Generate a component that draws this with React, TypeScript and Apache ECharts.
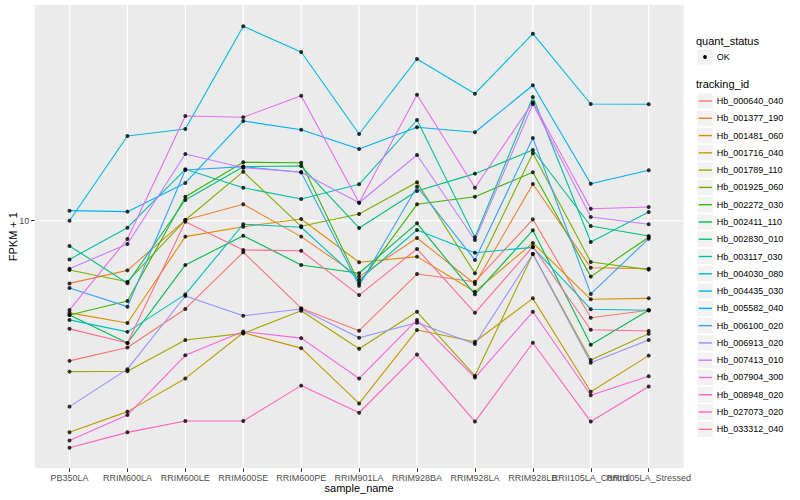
import React, { useEffect, useRef } from "react";
import * as echarts from "echarts";

const categories = [
  "PB350LA", "RRIM600LA", "RRIM600LE", "RRIM600SE", "RRIM600PE", "RRIM901LA",
  "RRIM928BA", "RRIM928LA", "RRIM928LB", "RRII105LA_Control", "RRII105LA_Stressed",
];

const trackingIds = [
  "Hb_000640_040", "Hb_001377_190", "Hb_001481_060", "Hb_001716_040", "Hb_001789_110",
  "Hb_001925_060", "Hb_002272_030", "Hb_002411_110", "Hb_002830_010", "Hb_003117_030",
  "Hb_004030_080", "Hb_004435_030", "Hb_005582_040", "Hb_006100_020", "Hb_006913_020",
  "Hb_007413_010", "Hb_007904_300", "Hb_008948_020", "Hb_027073_020", "Hb_033312_040",
];

const colors = [
  "#F8766D", "#EA8331", "#D89000", "#C09B00", "#A3A500", "#7CAE00", "#39B600", "#00BB4E",
  "#00BF7D", "#00C1A3", "#00BFC4", "#00BAE0", "#00B0F6", "#35A2FF", "#9590FF", "#C77CFF",
  "#E76BF3", "#FA62DB", "#FF62BC", "#FF6C91",
];

// FPKM + 1 per sample, in category order
const hb000640 = [3.41, 3.78, 5.08, 7.85, 5.11, 4.3, 6.64, 6.26, 10.11, 4.75, 5.03];
const hb001377 = [6.18, 6.83, 10.05, 11.34, 8.85, 6.51, 8.76, 6.15, 13.25, 6.97, 6.92];
const hb001481 = [4.93, 4.56, 8.85, 9.55, 10.13, 7.27, 7.59, 5.8, 8.43, 5.47, 5.51];
const hb001716 = [1.97, 2.31, 2.98, 4.23, 3.76, 2.46, 4.32, 3.95, 5.51, 2.69, 3.55];
const hb001789 = [3.14, 3.15, 4.0, 4.21, 5.01, 3.74, 4.97, 3.04, 7.74, 3.43, 4.2];
const hb001925 = [6.85, 6.26, 10.05, 14.57, 9.58, 10.53, 13.43, 6.68, 16.77, 7.28, 6.87];
const hb002272 = [4.85, 5.4, 12.02, 15.65, 15.61, 6.19, 11.34, 12.02, 14.5, 6.51, 8.81];
const hb002411 = [4.85, 3.91, 7.12, 8.91, 7.12, 6.68, 9.8, 5.68, 9.29, 3.86, 5.03];
const hb002830 = [8.24, 6.19, 11.72, 15.14, 15.21, 9.46, 12.56, 14.35, 17.21, 9.6, 8.89];
const hb003117 = [7.43, 9.48, 14.84, 12.88, 11.81, 13.22, 21.66, 8.81, 25.84, 8.49, 10.69];
const hb004030 = [4.67, 4.26, 5.68, 9.73, 9.51, 6.34, 9.31, 7.82, 8.15, 5.07, 5.03];
const hb004435 = [10.0, 19.16, 20.22, 44.46, 36.5, 19.45, 34.6, 26.5, 42.0, 24.49, 24.43];
const hb005582 = [10.8, 10.72, 13.36, 21.49, 20.11, 17.34, 20.48, 19.71, 28.27, 13.28, 14.72];
const hb006100 = [5.97, 5.17, 14.76, 15.14, 14.5, 6.07, 12.98, 7.4, 18.87, 5.7, 8.71];
const hb006913 = [2.4, 3.2, 5.61, 4.82, 5.08, 4.07, 4.57, 3.88, 7.74, 3.36, 4.0];
const hb007413 = [6.92, 8.36, 16.68, 15.02, 14.5, 11.48, 16.56, 8.62, 24.49, 10.29, 9.73];
const hb007904 = [5.04, 8.69, 22.34, 22.12, 26.1, 11.48, 26.3, 12.88, 24.81, 10.96, 11.11];
const hb008948 = [1.85, 2.25, 3.56, 4.27, 4.06, 2.98, 4.67, 3.0, 4.97, 2.62, 3.03];
const hb027073 = [1.75, 1.97, 2.15, 2.15, 2.82, 2.29, 3.58, 2.14, 3.92, 2.14, 2.8];
const hb033312 = [4.36, 3.91, 9.92, 7.99, 7.94, 5.65, 8.05, 4.93, 8.19, 4.33, 4.29];

const seriesValues = [
  hb000640, hb001377, hb001481, hb001716, hb001789, hb001925, hb002272, hb002411,
  hb002830, hb003117, hb004030, hb004435, hb005582, hb006100, hb006913, hb007413,
  hb007904, hb008948, hb027073, hb033312,
];

const yTickValues = [10];
const quantStatus = ["OK"];

export default function App() {
  const ref = useRef<HTMLDivElement>(null);

  useEffect(() => {
    if (!ref.current) return;
    const chart = echarts.init(ref.current, null, { renderer: "svg" });
    const font = "'Liberation Sans', Arial, Helvetica, sans-serif";

    const panel = { x: 34.8, y: 5, w: 648.8, h: 463.3 };

    const lineSeries = trackingIds.map((name, i) => ({
      type: "line",
      name,
      data: seriesValues[i],
      symbol: "none",
      showSymbol: false,
      lineStyle: { color: colors[i], width: 1.1 },
      itemStyle: { color: colors[i] },
      z: 2,
      silent: true,
      emphasis: { disabled: true },
    }));
    const pointSeries = trackingIds.map((name, i) => ({
      type: "scatter",
      name: name + " points",
      data: seriesValues[i],
      symbol: "circle",
      symbolSize: 4,
      itemStyle: { color: "#000000" },
      z: 3,
      silent: true,
      emphasis: { disabled: true },
    }));

    chart.setOption({
      animation: false,
      textStyle: { fontFamily: font },
      grid: {
        left: 40.54,
        right: 122.34,
        top: panel.y,
        bottom: 500 - (panel.y + panel.h),
        containLabel: false,
        outerBoundsMode: "none",
      },
      xAxis: {
        type: "category",
        data: categories,
        boundaryGap: true,
        axisLine: { show: false },
        axisTick: { show: true, alignWithLabel: true, length: 3.7, lineStyle: { color: "#333333", width: 1 } },
        axisLabel: { interval: 0, color: "#4D4D4D", fontSize: 9, margin: 5, fontFamily: font, hideOverlap: false },
        splitLine: { show: false },
        name: "sample_name",
        nameLocation: "middle",
        nameGap: 14.5,
        nameMoveOverlap: false,
        nameTextStyle: { fontSize: 11, color: "#000000", fontFamily: font },
      },
      yAxis: {
        type: "log",
        logBase: 10,
        min: 1.495,
        max: 52.36,
        offset: 5.74,
        axisLine: { show: false },
        axisTick: { show: true, customValues: yTickValues, length: 3.7, lineStyle: { color: "#333333", width: 1 } },
        axisLabel: {
          customValues: yTickValues,
          showMinLabel: false,
          showMaxLabel: false,
          color: "#4D4D4D",
          fontSize: 9,
          margin: 5.5,
          fontFamily: font,
          formatter: (v: number) => (yTickValues.some((t) => Math.abs(t - v) < 1e-6) ? String(v) : ""),
        },
        splitLine: { show: false },
        minorSplitLine: { show: false },
        name: "FPKM + 1",
        nameLocation: "middle",
        nameGap: 16,
        nameMoveOverlap: false,
        nameTextStyle: { fontSize: 11, color: "#000000", fontFamily: font },
      },
      series: [...lineSeries, ...pointSeries],
    });

    const elements: any[] = [];
    elements.push({
      type: "rect",
      shape: { x: panel.x, y: panel.y, width: panel.w, height: panel.h },
      style: { fill: "#EBEBEB" },
      z: -10,
      silent: true,
    });
    yTickValues.forEach((t) => {
      const py = chart.convertToPixel({ yAxisIndex: 0 }, t) as number;
      elements.push({
        type: "line",
        shape: { x1: panel.x, y1: py, x2: panel.x + panel.w, y2: py },
        style: { stroke: "#FFFFFF", lineWidth: 1.3 },
        z: -9,
        silent: true,
      });
    });
    categories.forEach((c) => {
      const px = chart.convertToPixel({ xAxisIndex: 0 }, c) as number;
      elements.push({
        type: "line",
        shape: { x1: px, y1: panel.y, x2: px, y2: panel.y + panel.h },
        style: { stroke: "#FFFFFF", lineWidth: 1.3 },
        z: -9,
        silent: true,
      });
    });

    const txt = (text: string, x: number, y: number, size: number) => ({
      type: "text",
      x,
      y,
      style: {
        text,
        fill: "#000000",
        fontSize: size,
        fontFamily: font,
        align: "left",
        verticalAlign: "middle",
        textAlign: "left",
        textVerticalAlign: "middle",
      },
      silent: true,
    });

    // legend: quant_status
    elements.push(txt("quant_status", 696, 40.7, 11));
    quantStatus.forEach((q, i) => {
      const cy = 57 + i * 17.28;
      elements.push({
        type: "rect",
        shape: { x: 697.3, y: cy - 7.7, width: 15.4, height: 15.4 },
        style: { fill: "#F2F2F2" },
        silent: true,
      });
      elements.push({ type: "circle", shape: { cx: 705, cy, r: 1.9 }, style: { fill: "#000000" }, silent: true });
      elements.push(txt(q, 716.7, cy, 9));
    });

    // legend: tracking_id
    elements.push(txt("tracking_id", 696, 84.3, 11));
    trackingIds.forEach((name, i) => {
      const cy = 101 + i * 17.28;
      elements.push({
        type: "rect",
        shape: { x: 697.3, y: cy - 7.7, width: 15.4, height: 15.4 },
        style: { fill: "#F2F2F2" },
        silent: true,
      });
      elements.push({
        type: "line",
        shape: { x1: 698.7, y1: cy, x2: 712, y2: cy },
        style: { stroke: colors[i], lineWidth: 1.4 },
        silent: true,
      });
      elements.push(txt(name, 716.7, cy, 9));
    });

    chart.setOption({ graphic: { elements } });

    return () => {
      chart.dispose();
    };
  }, []);

  return <div ref={ref} style={{ position: "absolute", left: 0, top: 0, width: 800, height: 500 }} />;
}
